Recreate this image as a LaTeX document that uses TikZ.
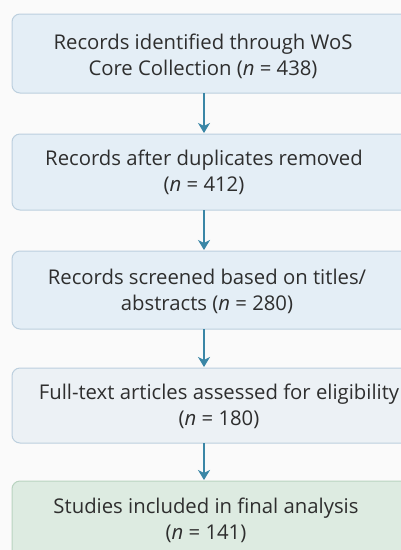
\documentclass[tikz,border=0pt]{standalone}
\usepackage{fontspec}
\setmainfont{Open Sans}
\usetikzlibrary{arrows.meta}
\definecolor{bgc}{HTML}{FAFAFA}
\definecolor{bluefill}{HTML}{E4EEF6}
\definecolor{blueline}{HTML}{BCCFDE}
\definecolor{grayfill}{HTML}{ECF1F5}
\definecolor{greenfill}{HTML}{DDEBE1}
\definecolor{greenline}{HTML}{B9D3C0}
\definecolor{arrowc}{HTML}{3A86A6}
\definecolor{textc}{HTML}{2E2E2E}
\tikzset{
  x=1pt, y=-1pt,
  boxstyle/.style={draw=blueline, fill=bluefill, line width=1pt, rounded corners=8pt},
  labelstyle/.style={text=textc, font=\fontsize{20.3}{26}\selectfont, align=center, inner sep=0pt},
  flowarrow/.style={draw=arrowc, line width=1.6pt, -{Stealth[length=10pt, width=12pt, inset=3pt]}}
}
\begin{document}
\begin{tikzpicture}
\useasboundingbox (0,0) rectangle (401,550);
\clip (0,0) rectangle (401,550);
\fill[bgc] (0,0) rectangle (401,550);
% boxes
\draw[boxstyle] (12,14) rectangle (412,93);
\draw[boxstyle] (12,134) rectangle (412,210);
\draw[boxstyle] (12,251) rectangle (412,329);
\draw[boxstyle, fill=grayfill] (12,368) rectangle (412,443);
\draw[boxstyle, draw=greenline, fill=greenfill] (12,481) rectangle (412,562);
% labels
\node[labelstyle] (b1) at (203,56) {Records identified through WoS\\Core Collection (\textit{n} = 438)};
\node[labelstyle] (b2) at (204,172) {Records after duplicates removed\\(\textit{n} = 412)};
\node[labelstyle] (b3) at (207,291) {Records screened based on titles/\\abstracts (\textit{n} = 280)};
\node[labelstyle] (b4) at (219,406) {Full-text articles assessed for eligibility\\(\textit{n} = 180)};
\node[labelstyle] (b5) at (206,520) {Studies included in final analysis\\(\textit{n} = 141)};
% arrow anchors
\coordinate (a1s) at (204,93);  \coordinate (a1e) at (204,133);
\coordinate (a2s) at (204,210); \coordinate (a2e) at (204,250);
\coordinate (a3s) at (204,329); \coordinate (a3e) at (204,367);
\coordinate (a4s) at (204,443); \coordinate (a4e) at (204,480);
\draw[flowarrow] (a1s) -- (a1e);
\draw[flowarrow] (a2s) -- (a2e);
\draw[flowarrow] (a3s) -- (a3e);
\draw[flowarrow] (a4s) -- (a4e);
\end{tikzpicture}
\end{document}
